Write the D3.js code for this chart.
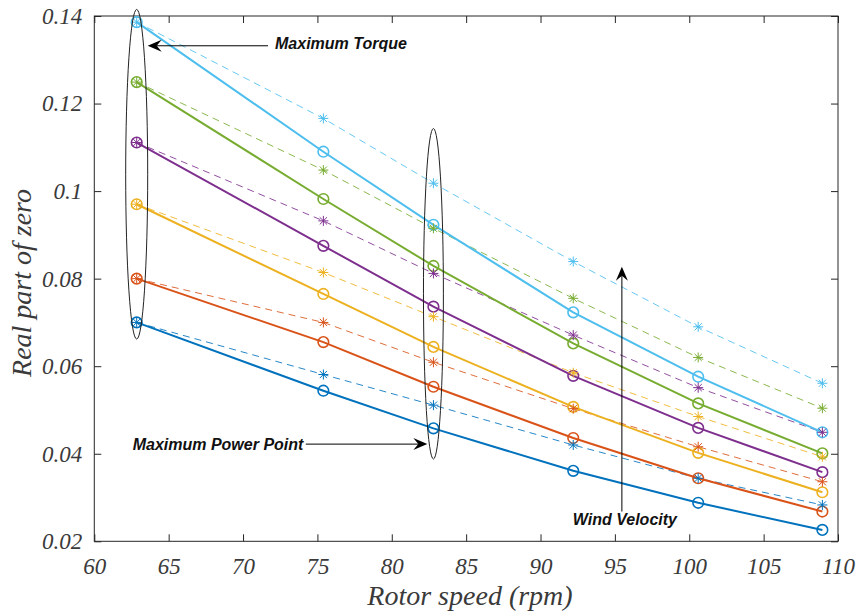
<!DOCTYPE html>
<html>
<head>
<meta charset="utf-8">
<script src="https://cdn.jsdelivr.net/npm/d3@7"></script>
<style>
  html, body { margin: 0; padding: 0; background: #fff; }
  svg { display: block; }
</style>
</head>
<body>
<svg id="chart" width="860" height="611"></svg>
<script>
// Rotor speeds (rpm) at which the zero was evaluated
const rotorSpeed = [62.85, 75.4, 82.8, 92.2, 100.6, 108.95];

// Series colours (one per wind velocity, lowest first)
const seriesColors = ["#0072BD", "#D95319", "#EDB120", "#7E2F8E", "#77AC30", "#4DBEEE"];

// Real part of zero — solid lines with circle markers
const solidSeries = [
  [0.0700, 0.0544, 0.0458, 0.0361, 0.0288, 0.0226],
  [0.0800, 0.0655, 0.0553, 0.0436, 0.0344, 0.0268],
  [0.0970, 0.0765, 0.0644, 0.0507, 0.0402, 0.0312],
  [0.1111, 0.0875, 0.0736, 0.0578, 0.0459, 0.0358],
  [0.1249, 0.0982, 0.0829, 0.0652, 0.0515, 0.0401],
  [0.1386, 0.1090, 0.0923, 0.0723, 0.0576, 0.0449]
];

// Real part of zero — dashed lines with star markers
const dashedSeries = [
  [0.0700, 0.0581, 0.0511, 0.0420, 0.0344, 0.0283],
  [0.0800, 0.0700, 0.0609, 0.0503, 0.0416, 0.0336],
  [0.0970, 0.0814, 0.0713, 0.0585, 0.0485, 0.0393],
  [0.1111, 0.0932, 0.0812, 0.0671, 0.0551, 0.0449],
  [0.1249, 0.1048, 0.0915, 0.0755, 0.0620, 0.0504],
  [0.1386, 0.1166, 0.1018, 0.0839, 0.0690, 0.0561]
];

// Axis ticks
const xTicks = [60, 65, 70, 75, 80, 85, 90, 95, 100, 105, 110];
const yTicks = [0.02, 0.04, 0.06, 0.08, 0.1, 0.12, 0.14];
const yTickLabels = ["0.02", "0.04", "0.06", "0.08", "0.1", "0.12", "0.14"];

const svg = d3.select("#chart");
const plot = { left: 94.3, right: 838, top: 16, bottom: 541.3 };

const x = d3.scaleLinear().domain([60, 110]).range([plot.left, plot.right]);
const y = d3.scaleLinear().domain([0.02, 0.14]).range([plot.bottom, plot.top]);

const axisColor = "#262626";
const textColor = "#3a3a3a";
const tickFont = "'Liberation Serif', 'Times New Roman', serif";

// Box frame
svg.append("rect")
  .attr("x", plot.left).attr("y", plot.top)
  .attr("width", plot.right - plot.left).attr("height", plot.bottom - plot.top)
  .attr("fill", "none").attr("stroke", axisColor).attr("stroke-width", 1);

// Axes with inward ticks
const xAxisBottom = d3.axisBottom(x).tickValues(xTicks).tickSizeInner(-7).tickSizeOuter(0).tickPadding(16);
const xAxisTop = d3.axisTop(x).tickValues(xTicks).tickSizeInner(-7).tickSizeOuter(0).tickFormat("");
const yAxisLeft = d3.axisLeft(y).tickValues(yTicks).tickSizeInner(-7).tickSizeOuter(0).tickPadding(12)
  .tickFormat((d, i) => yTickLabels[i]);
const yAxisRight = d3.axisRight(y).tickValues(yTicks).tickSizeInner(-7).tickSizeOuter(0).tickFormat("");

function styleAxis(g) {
  g.select(".domain").remove();
  g.selectAll(".tick line").attr("stroke", axisColor);
  g.selectAll(".tick text")
    .attr("fill", textColor)
    .style("font-family", tickFont)
    .style("font-style", "italic")
    .style("font-size", "23px");
}

svg.append("g").attr("transform", `translate(0,${plot.bottom})`).call(xAxisBottom).call(styleAxis);
svg.append("g").attr("transform", `translate(0,${plot.top})`).call(xAxisTop).call(styleAxis);
svg.append("g").attr("transform", `translate(${plot.left},0)`).call(yAxisLeft).call(styleAxis);
svg.append("g").attr("transform", `translate(${plot.right},0)`).call(yAxisRight).call(styleAxis);

// Axis titles
svg.append("text")
  .attr("x", 470).attr("y", 605)
  .attr("text-anchor", "middle")
  .attr("fill", textColor)
  .style("font-family", tickFont).style("font-style", "italic").style("font-size", "28px")
  .text("Rotor speed (rpm)");

svg.append("text")
  .attr("transform", "translate(31,283) rotate(-90)")
  .attr("text-anchor", "middle")
  .attr("fill", textColor)
  .style("font-family", tickFont).style("font-style", "italic").style("font-size", "28px")
  .text("Real part of zero");

const line = d3.line()
  .x((d, i) => x(rotorSpeed[i]))
  .y(d => y(d));

const lines = svg.append("g");

// Dashed series (drawn first, underneath)
dashedSeries.forEach((vals, k) => {
  lines.append("path")
    .datum(vals)
    .attr("d", line)
    .attr("fill", "none")
    .attr("stroke", seriesColors[k])
    .attr("stroke-width", 1)
    .attr("stroke-dasharray", "7,5")
    .attr("opacity", 0.85);
});

// Solid series
solidSeries.forEach((vals, k) => {
  lines.append("path")
    .datum(vals)
    .attr("d", line)
    .attr("fill", "none")
    .attr("stroke", seriesColors[k])
    .attr("stroke-width", 2);
});

// Circle markers
solidSeries.forEach((vals, k) => {
  lines.append("g").selectAll("circle")
    .data(vals)
    .join("circle")
    .attr("cx", (d, i) => x(rotorSpeed[i]))
    .attr("cy", d => y(d))
    .attr("r", 5.3)
    .attr("fill", "none")
    .attr("stroke", seriesColors[k])
    .attr("stroke-width", 1.6);
});

// Star markers (plus + cross)
const s = 5;
const starPath = `M${-s},0L${s},0M0,${-s}L0,${s}M${-s*0.72},${-s*0.72}L${s*0.72},${s*0.72}M${-s*0.72},${s*0.72}L${s*0.72},${-s*0.72}`;
dashedSeries.forEach((vals, k) => {
  lines.append("g").selectAll("path")
    .data(vals)
    .join("path")
    .attr("transform", (d, i) => `translate(${x(rotorSpeed[i])},${y(d)})`)
    .attr("d", starPath)
    .attr("fill", "none")
    .attr("stroke", seriesColors[k])
    .attr("stroke-width", 1);
});

// Annotation ellipses around the maximum-torque and maximum-power-point columns
const ellipses = [
  { cx: 62.85, rx: 0.74, yTop: 0.1415, yBottom: 0.0662 },
  { cx: 82.8, rx: 0.67, yTop: 0.1143, yBottom: 0.0388 }
];
svg.append("g").selectAll("ellipse")
  .data(ellipses)
  .join("ellipse")
  .attr("cx", d => x(d.cx))
  .attr("cy", d => (y(d.yTop) + y(d.yBottom)) / 2)
  .attr("rx", d => x(d.cx + d.rx) - x(d.cx))
  .attr("ry", d => (y(d.yBottom) - y(d.yTop)) / 2)
  .attr("fill", "none")
  .attr("stroke", "#222")
  .attr("stroke-width", 1);

// Arrows with concave-back heads
function arrow(x1, y1, x2, y2) {
  const px1 = x(x1), py1 = y(y1), px2 = x(x2), py2 = y(y2);
  const ang = Math.atan2(py2 - py1, px2 - px1);
  const L = 14, W = 6, back = 9;
  const g = svg.append("g");
  const bx = px2 - back * Math.cos(ang), by = py2 - back * Math.sin(ang);
  g.append("line")
    .attr("x1", px1).attr("y1", py1).attr("x2", bx).attr("y2", by)
    .attr("stroke", "#000").attr("stroke-width", 1);
  const cos = Math.cos(ang), sin = Math.sin(ang);
  const p = (a, b) => [px2 - a * cos + b * sin, py2 - a * sin - b * cos];
  const pts = [p(0, 0), p(L, W), p(back, 0), p(L, -W)];
  g.append("path")
    .attr("d", "M" + pts.map(q => q.join(",")).join("L") + "Z")
    .attr("fill", "#000");
}

const annoFont = "'Liberation Sans', Arial, sans-serif";
function label(xv, yv, txt) {
  svg.append("text")
    .attr("x", x(xv)).attr("y", y(yv))
    .attr("fill", "#111")
    .style("font-family", annoFont).style("font-weight", "bold").style("font-style", "italic")
    .style("font-size", "16px")
    .text(txt);
}

arrow(71.68, 0.1332, 63.59, 0.1332);
label(72.15, 0.1324, "Maximum Torque");

arrow(74.22, 0.0422, 82.39, 0.0422);
label(62.58, 0.0409, "Maximum Power Point");

arrow(95.47, 0.0268, 95.47, 0.0827);
label(92.17, 0.0237, "Wind Velocity");
</script>
</body>
</html>
